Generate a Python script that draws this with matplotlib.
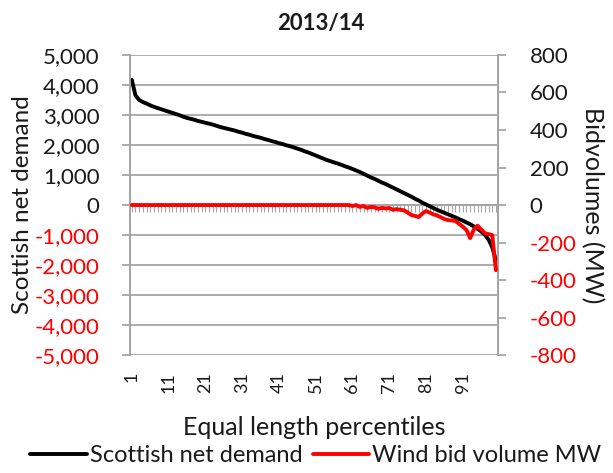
import matplotlib
matplotlib.use("Agg")
import matplotlib.pyplot as plt
from matplotlib.ticker import FuncFormatter, MultipleLocator
import numpy as np

plt.rcParams['font.family'] = ['Lato', 'DejaVu Sans']

title = "2013/14"
percentiles = list(range(1, 101))

net_demand = [
    4170, 3650, 3500, 3430, 3380, 3320, 3270, 3230, 3190, 3150,
    3110, 3070, 3030, 2990, 2940, 2900, 2870, 2840, 2800, 2770,
    2740, 2710, 2680, 2640, 2600, 2570, 2540, 2510, 2480, 2440,
    2410, 2370, 2340, 2300, 2270, 2240, 2200, 2170, 2130, 2100,
    2060, 2030, 1990, 1960, 1920, 1880, 1840, 1790, 1750, 1700,
    1650, 1600, 1550, 1500, 1460, 1420, 1380, 1340, 1290, 1250,
    1200, 1150, 1100, 1040, 980, 920, 870, 810, 750, 700,
    640, 580, 520, 460, 400, 340, 280, 210, 150, 80,
    20, -40, -100, -160, -210, -260, -310, -360, -410, -470,
    -520, -580, -640, -710, -790, -880, -990, -1150, -1400, -1850,
]

wind_bid = [0] * 60 + [
    -5, 0, -10, -5, -15, -10, -12, -20, -15, -18,
    -16, -25, -22, -25, -28, -40, -53, -58, -64, -45,
    -32, -40, -50, -55, -65, -75, -80, -82, -85, -100,
    -115, -133, -176, -130, -110, -130, -150, -155, -160, -347,
]

label_ticks = list(range(1, 100, 10))

grid_col = "#a6a6a6"
text_col = "#1a1a1a"


def excel_fmt(v, pos):
    if v == 0:
        return "0"
    return "{:,.0f}".format(v)


fig = plt.figure(figsize=(6.13, 4.73), dpi=100)
ax = fig.add_axes([0.212, 0.249, 0.600, 0.635])
ax2 = ax.twinx()

ax.plot(percentiles, net_demand, color="black", lw=2.8, solid_capstyle="round", zorder=3)
ax2.plot(percentiles, wind_bid, color="red", lw=2.8, solid_capstyle="round", zorder=3)

ax.set_xlim(0.5, 100.5)
ax.set_ylim(-5000, 5000)
ax2.set_ylim(-800, 800)
ax.yaxis.set_major_locator(MultipleLocator(1000))
ax2.yaxis.set_major_locator(MultipleLocator(200))
ax.yaxis.set_major_formatter(FuncFormatter(excel_fmt))
ax2.yaxis.set_major_formatter(FuncFormatter(excel_fmt))

ax.grid(axis="y", color=grid_col, lw=1.3)
ax.set_axisbelow(True)

for a in (ax, ax2):
    for s in ("top", "bottom"):
        a.spines[s].set_visible(False)
    a.spines["left"].set_color(grid_col)
    a.spines["right"].set_color(grid_col)
    a.spines["left"].set_linewidth(1.3)
    a.spines["right"].set_linewidth(1.3)

ax.tick_params(axis="y", length=6, width=1.3, color=grid_col, labelsize=16, labelcolor=text_col, pad=16)
ax2.tick_params(axis="y", length=6, width=1.3, color=grid_col, labelsize=16, labelcolor=text_col, pad=17)

for a, vals in ((ax, ax.get_yticks()), (ax2, ax2.get_yticks())):
    for lab, v in zip(a.get_yticklabels(), vals):
        if v < 0:
            lab.set_color("red")

# category labels at the bottom
ax.set_xticks(label_ticks)
ax.set_xticklabels([str(t) for t in label_ticks], rotation=90)
ax.tick_params(axis="x", length=0, labelsize=13, labelcolor=text_col, pad=12)

# horizontal category axis crossing at zero
zero_ax = ax.secondary_xaxis(0.5)
zero_ax.set_alignment("bottom")
zero_ax.spines["bottom"].set_color(grid_col)
zero_ax.spines["bottom"].set_linewidth(1.3)
zero_ax.set_xticks(percentiles)
zero_ax.set_xticklabels([])
zero_ax.tick_params(axis="x", direction="out", length=5, width=0.8, color=grid_col,
                    labelbottom=False, labeltop=False)

ax.set_title(title, fontsize=16, fontweight="bold", color=text_col, pad=18, x=0.52)
ax.set_xlabel("Equal length percentiles", fontsize=18, color=text_col, labelpad=17)
ax.set_ylabel("Scottish net demand", fontsize=17.5, color=text_col, labelpad=1)
ax2.set_ylabel("Bidvolumes (MW)", fontsize=18, color=text_col, rotation=-90, labelpad=20)

fig.legend(ax.get_lines() + ax2.get_lines(),
           ["Scottish net demand", "Wind bid volume MW"],
           loc="lower center", bbox_to_anchor=(0.515, -0.005), ncol=2, frameon=False,
           fontsize=17, handlelength=2.4, handletextpad=0.12, columnspacing=0.45,
           borderaxespad=0.0, labelcolor=text_col)

fig.savefig("out.png", dpi=100)
